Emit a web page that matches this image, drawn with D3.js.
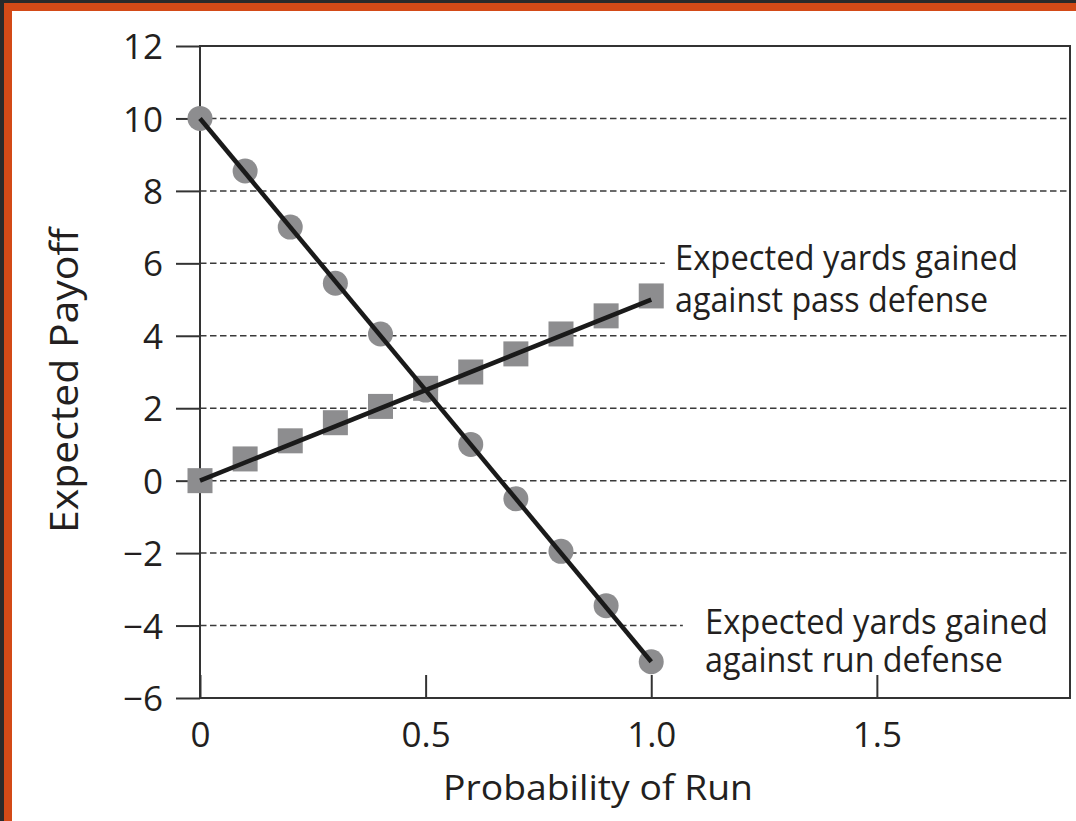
<!DOCTYPE html>
<html>
<head>
<meta charset="utf-8">
<script src="https://cdn.jsdelivr.net/npm/d3@7"></script>
<style>
  html, body { margin: 0; padding: 0; background: #2a2a2a; }
  svg { display: block; }
  text { font-family: "Open Sans", "Noto Sans", sans-serif; fill: #231f20; }
</style>
</head>
<body>
<svg id="chart" width="1076" height="821"></svg>
<script>
// ---- data ----
const probRun = [0, 0.1, 0.2, 0.3, 0.4, 0.5, 0.6, 0.7, 0.8, 0.9, 1.0];
const vsRunDefense = [10, 8.55, 7.0, 5.45, 4.05, 2.5, 1.0, -0.5, -1.95, -3.45, -5.0];
const vsPassDefense = [0, 0.6, 1.1, 1.6, 2.05, 2.55, 3.0, 3.5, 4.05, 4.55, 5.1];
const runLine = [[0, 10], [1, -5]];
const passLine = [[0, 0], [1, 5]];
const yTicks = [-6, -4, -2, 0, 2, 4, 6, 8, 10, 12];
const xTicks = [0, 0.5, 1.0, 1.5];
const xTickLabels = ["0", "0.5", "1.0", "1.5"];
const gridValues = [10, 8, 6, 4, 2, 0, -2, -4];
const gridEnds = [null, null, 1.03, null, null, null, null, 1.07]; // x-domain end for shortened grid lines
const passLabel = ["Expected yards gained", "against pass defense"];
const runLabel = ["Expected yards gained", "against run defense"];
const xTitle = "Probability of Run";
const yTitle = "Expected Payoff";

// ---- layout ----
const W = 1076, H = 821;
const pLeft = 200, pRight = 1070, pTop = 46, pBottom = 698;
const svg = d3.select("#chart");

svg.append("rect").attr("x", 0).attr("y", 0).attr("width", W).attr("height", H).attr("fill", "#2a2a2a");
svg.append("rect").attr("x", 4).attr("y", 3).attr("width", W).attr("height", H).attr("fill", "#d34a17");
svg.append("rect").attr("x", 12).attr("y", 11).attr("width", W).attr("height", H).attr("fill", "#ffffff");

const x = d3.scaleLinear().domain([0, 1.928]).range([pLeft, pRight]);
const y = d3.scaleLinear().domain([-6, 12]).range([pBottom, pTop]);

// grid lines
svg.append("g").selectAll("line").data(gridValues).join("line")
  .attr("x1", pLeft)
  .attr("x2", (d, i) => gridEnds[i] == null ? pRight : x(gridEnds[i]))
  .attr("y1", d => y(d)).attr("y2", d => y(d))
  .attr("stroke", "#3a3a3a").attr("stroke-width", 1.5)
  .attr("stroke-dasharray", "6.5,3.5");

// frame
svg.append("rect").attr("x", pLeft).attr("y", pTop)
  .attr("width", pRight - pLeft).attr("height", pBottom - pTop)
  .attr("fill", "none").attr("stroke", "#333").attr("stroke-width", 2);

// y axis
const yAxis = d3.axisLeft(y).tickValues(yTicks).tickSize(24).tickPadding(13)
  .tickFormat(d => d < 0 ? "\u2212" + Math.abs(d) : String(d));
const gy = svg.append("g").attr("transform", `translate(${pLeft},0)`).call(yAxis);
gy.select(".domain").remove();
gy.selectAll(".tick line").attr("stroke", "#333").attr("stroke-width", 2);
gy.selectAll(".tick text").attr("font-size", 35).attr("fill", "#231f20")
  .attr("font-family", "'Open Sans', sans-serif").attr("dy", "0.36em");

// x axis (ticks pointing inward)
const xAxis = d3.axisBottom(x).tickValues(xTicks).tickSize(-23).tickPadding(24)
  .tickFormat((d, i) => xTickLabels[i]);
const gx = svg.append("g").attr("transform", `translate(0,${pBottom})`).call(xAxis);
gx.select(".domain").remove();
gx.selectAll(".tick line").attr("stroke", "#333").attr("stroke-width", 2);
gx.selectAll(".tick text").attr("font-size", 35).attr("fill", "#231f20")
  .attr("font-family", "'Open Sans', sans-serif").attr("dy", "0.71em");

// lines
const lineGen = d3.line().x(d => x(d[0])).y(d => y(d[1]));

// markers: circles (run defense)
svg.append("g").selectAll("circle").data(probRun).join("circle")
  .attr("cx", d => x(d)).attr("cy", (d, i) => y(vsRunDefense[i]))
  .attr("r", 12.5).attr("fill", "#8d8d8f");
// squares (pass defense)
svg.append("g").selectAll("rect").data(probRun).join("rect")
  .attr("x", d => x(d) - 12.5).attr("y", (d, i) => y(vsPassDefense[i]) - 12.5)
  .attr("width", 25).attr("height", 25).attr("fill", "#8d8d8f");

svg.append("path").datum(passLine).attr("d", lineGen)
  .attr("fill", "none").attr("stroke", "#1a1a1a").attr("stroke-width", 4.5);
svg.append("path").datum(runLine).attr("d", lineGen)
  .attr("fill", "none").attr("stroke", "#1a1a1a").attr("stroke-width", 4.5);

// annotations (one text element per label, one tspan per line)
function label(lines, widths, tx, ty, gap) {
  const t = svg.append("text").attr("x", tx).attr("y", ty).attr("font-size", 35);
  lines.forEach((s, i) => {
    t.append("tspan").attr("x", tx).attr("y", ty + i * gap)
      .attr("textLength", widths[i])
      .attr("lengthAdjust", "spacingAndGlyphs").text(s);
  });
}
label(passLabel, [343, 313], 675, 270, 42);
label(runLabel, [343, 298], 705, 634, 38);

// axis titles
svg.append("text").attr("x", 443).attr("y", 800)
  .attr("font-size", 35).attr("textLength", 310)
  .attr("lengthAdjust", "spacingAndGlyphs").text(xTitle);
svg.append("text").attr("transform", "translate(78,533) rotate(-90)")
  .attr("font-size", 38).attr("textLength", 305)
  .attr("lengthAdjust", "spacingAndGlyphs").text(yTitle);
</script>
</body>
</html>
